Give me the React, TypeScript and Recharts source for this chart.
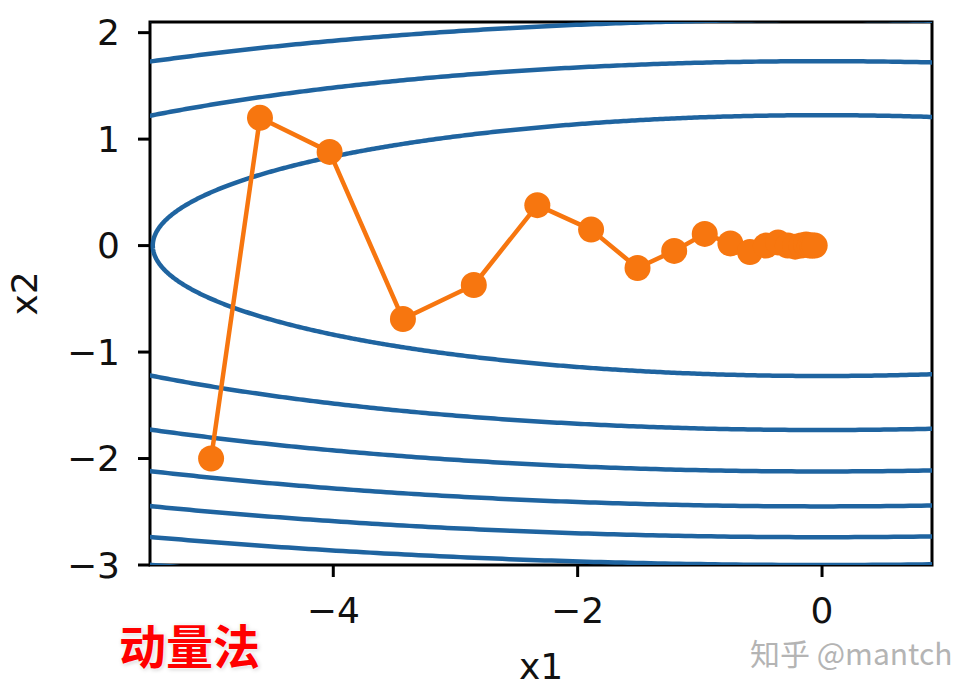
import { ReferenceArea, Scatter, ScatterChart, XAxis, YAxis } from "recharts";

// axis ticks and ranges
const xTicks = [-4, -2, 0];
const yTicks = [-3, -2, -1, 0, 1, 2];
const xDomain = [-5.5, 0.9];
const yDomain = [-3, 2.1];

// objective f(x1, x2) = 0.1 * x1^2 + 2 * x2^2 and the contour levels shown
const coefX1 = 0.1;
const coefX2 = 2;
const contourLevels = [3, 6, 9, 12, 15, 18, 21];

// momentum trajectory
const trajX1 = [-5, -4.6, -4.03, -3.43, -2.85, -2.33, -1.89, -1.51, -1.21, -0.96, -0.75, -0.59, -0.46, -0.36, -0.28, -0.22, -0.17, -0.13, -0.1, -0.08, -0.06];
const trajX2 = [-2, 1.2, 0.88, -0.69, -0.37, 0.38, 0.15, -0.21, -0.05, 0.11, 0.02, -0.06, 0.0, 0.03, 0.0, -0.01, 0.0, 0.01, 0.0, 0.0, 0.0];

const BLUE = "#1f64a0";
const ORANGE = "#f7760f";
const FONT = "'DejaVu Sans', sans-serif";

const contours = contourLevels.map((c) => {
  const a = Math.sqrt(c / coefX1);
  const b = Math.sqrt(c / coefX2);
  const pts: { x: number; y: number }[] = [];
  for (let i = 0; i <= 1440; i++) {
    const t = (i / 1440) * 2 * Math.PI;
    pts.push({ x: a * Math.cos(t), y: b * Math.sin(t) });
  }
  return pts;
});

const trajectory = trajX1.map((x, i) => ({ x, y: trajX2[i] }));

const fmt = (v: number) => (v < 0 ? `\u2212${-v}` : `${v}`);

const Dot = (props: any) => <circle cx={props.cx} cy={props.cy} r={13} fill={ORANGE} />;

export default function App() {
  return (
    <div style={{ position: "absolute", left: 0, top: 0, width: 958, height: 698, background: "#fff" }}>
      <ScatterChart width={958} height={698} margin={{ top: 22, right: 26, left: 0, bottom: 0 }}>
        <XAxis
          type="number"
          dataKey="x"
          domain={xDomain}
          ticks={xTicks}
          allowDataOverflow
          height={133}
          tickSize={12}
          tickMargin={20}
          tickFormatter={fmt}
          axisLine={false}
          tickLine={{ stroke: "#000", strokeWidth: 3 }}
          tick={{ fill: "#111", fontSize: 36, fontFamily: FONT }}
          label={{ value: "x1", position: "insideBottom", offset: 19, fill: "#111", fontSize: 36, fontFamily: FONT }}
        />
        <YAxis
          type="number"
          dataKey="y"
          domain={yDomain}
          ticks={yTicks}
          allowDataOverflow
          width={150}
          tickSize={12}
          tickMargin={18}
          tickFormatter={fmt}
          axisLine={false}
          tickLine={{ stroke: "#000", strokeWidth: 3 }}
          tick={{ fill: "#111", fontSize: 36, fontFamily: FONT }}
          label={{
            value: "x2",
            angle: -90,
            position: "insideLeft",
            offset: 24,
            fill: "#111",
            fontSize: 36,
            fontFamily: FONT,
            style: { textAnchor: "middle" },
          }}
        />
        {contours.map((pts, i) => (
          <Scatter
            key={`c${i}`}
            data={pts}
            isAnimationActive={false}
            shape={() => <g />}
            line={{ stroke: BLUE, strokeWidth: 4.5 }}
            lineType="joint"
          />
        ))}
        <Scatter
          data={trajectory}
          isAnimationActive={false}
          shape={Dot}
          line={{ stroke: ORANGE, strokeWidth: 4.5, strokeLinejoin: "round" }}
          lineType="joint"
        />
        <ReferenceArea
          x1={xDomain[0]}
          x2={xDomain[1]}
          y1={yDomain[0]}
          y2={yDomain[1]}
          fill="none"
          stroke="#000"
          strokeWidth={3}
          ifOverflow="visible"
        />
      </ScatterChart>
      <div
        style={{
          position: "absolute",
          left: 119,
          top: 615,
          fontFamily: "'Noto Sans CJK SC', sans-serif",
          fontWeight: 700,
          fontSize: 47,
          lineHeight: "58px",
          color: "#ff0000",
          textShadow: "0 0 3px #fff, 0 0 3px #fff, 1px 1px 4px rgba(0,0,0,0.25)",
        }}
      >
        动量法
      </div>
      <div
        style={{
          position: "absolute",
          left: 750,
          top: 632,
          fontFamily: "'Noto Sans CJK SC', sans-serif",
          fontSize: 30,
          lineHeight: "40px",
          color: "#b4b4b4",
          whiteSpace: "nowrap",
        }}
      >
        知乎 @mantch
      </div>
    </div>
  );
}
